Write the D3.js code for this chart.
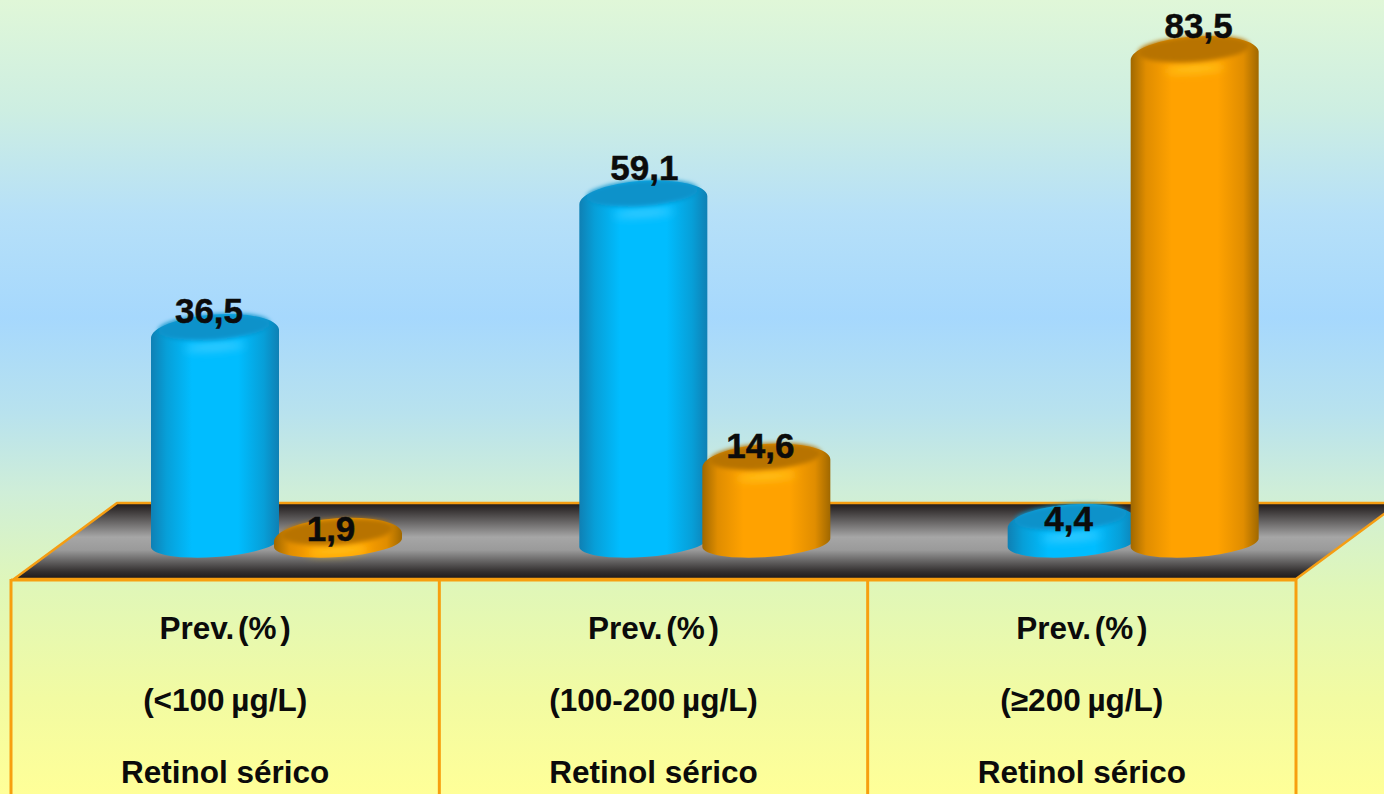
<!DOCTYPE html>
<html>
<head>
<meta charset="utf-8">
<script src="https://cdn.jsdelivr.net/npm/d3@7"></script>
<style>
html,body{margin:0;padding:0;background:#fff;overflow:hidden}
svg{display:block}
text{font-family:"Liberation Sans",Arial,sans-serif;fill:#0b0b0b}
</style>
</head>
<body>
<svg id="chart" width="1384" height="794"></svg>
<script>
// Retinol ranges, one column per range
const ranges = ["<100 µg/L", "100-200 µg/L", "≥200 µg/L"];
const seriesNames = ["azul", "laranja"];
const blueValues = [36.5, 59.1, 4.4];
const orangeValues = [1.9, 14.6, 83.5];
const tableTitle = "Prev. (% )";
const tableFooter = "Retinol sérico";

const W = 1384, H = 794;
const svg = d3.select("#chart");
const defs = svg.append("defs");
const comma = d3.formatLocale({decimal: ",", thousands: ".", grouping: [3], currency: ["", ""]}).format(".1f");

// Layout of the pseudo-3D stage
const tableTop = 579, floorBack = 503, floorSlant = 103;
const tableLeft = 11, tableRight = 1296;
const baseCentre = 542.5, rx = 64, ry = 14.5, tilt = -4;
const dyTilt = Math.tan(tilt * Math.PI / 180) * rx;

const x0 = d3.scaleBand().domain(ranges).range([tableLeft, tableRight]);
const x1 = d3.scalePoint().domain(seriesNames).range([204, 327]);
const y = d3.scaleLinear().domain([0, 83.5]).range([544, 50]);

// Value label nudges relative to the top of each cylinder [dx, dy]
const labelNudgeBlue = [[-6, -5], [1, -14], [-3, 13]];
const labelNudgeOrange = [[-7, 8], [-6, 0], [4, -12]];

function linear(id, stops, vertical) {
  const g = defs.append("linearGradient").attr("id", id)
    .attr("x1", 0).attr("y1", 0).attr("x2", vertical ? 0 : 1).attr("y2", vertical ? 1 : 0);
  stops.forEach(s => g.append("stop").attr("offset", s[0]).attr("stop-color", s[1]));
}
linear("bg", [[0, "#e0f7d8"], [0.14, "#cdeee2"], [0.27, "#b6e0f8"], [0.40, "#a6d8fd"],
  [0.52, "#b8e2ee"], [0.62, "#cfeed8"], [0.74, "#e0f7b8"], [0.88, "#f2fba2"], [1, "#ffff98"]], true);
linear("floor", [[0, "#1f1a1a"], [0.1, "#3a3636"], [0.45, "#a6a6a6"], [0.62, "#9a9a9a"], [0.9, "#333030"], [1, "#1c1818"]], true);

const palette = {
  azul: {edge: "#0f80b4", shade: "#079fd8", mid: "#00bdff", cap: "#0a92ca", glow: "#3fcdff"},
  laranja: {edge: "#a06800", shade: "#e08d00", mid: "#ffa200", cap: "#b87300", glow: "#ffc81e"}
};
seriesNames.forEach(n => {
  const p = palette[n];
  linear("side-" + n, [[0, p.edge], [0.12, p.shade], [0.32, p.mid], [0.68, p.mid], [0.88, p.shade], [1, p.edge]]);
});
defs.append("filter").attr("id", "soft").attr("x", "-20%").attr("y", "-50%").attr("width", "140%").attr("height", "200%")
  .append("feGaussianBlur").attr("stdDeviation", 2.2);
defs.append("filter").attr("id", "softer").attr("x", "-40%").attr("y", "-150%").attr("width", "180%").attr("height", "400%")
  .append("feGaussianBlur").attr("stdDeviation", 4);

// Background
svg.append("rect").attr("width", W).attr("height", H).attr("fill", "url(#bg)");

// Floor the cylinders stand on
const floorRight = tableRight + floorSlant;
svg.append("path")
  .attr("d", `M${tableLeft + 3},${tableTop} L${tableLeft + 3 + floorSlant},${floorBack} L${floorRight},${floorBack} L${tableRight},${tableTop} Z`)
  .attr("fill", "url(#floor)").attr("stroke", "#f59d12").attr("stroke-width", 2.5).attr("stroke-linejoin", "round");

// Table under the floor
const table = svg.append("g").attr("stroke", "#f79f0f").attr("stroke-width", 3);
table.append("line").attr("x1", tableLeft).attr("x2", tableRight + 1).attr("y1", tableTop + 1).attr("y2", tableTop + 1);
[tableLeft, ...ranges.slice(1).map(r => x0(r)), tableRight].forEach(xv => {
  table.append("line").attr("x1", xv).attr("x2", xv).attr("y1", tableTop).attr("y2", H);
});

// One cylinder: body with rounded shoulder, recessed top and front highlight
function cylinder(g, cx, value, name) {
  const p = palette[name];
  const top = y(value);
  const c = g.append("g");
  const height = Math.max(0, baseCentre - top);
  const drop = Math.min(6, height * 0.5);
  const shoulderRy = ry + 5;
  // The body and shoulder share one silhouette so the side shading runs through it
  c.append("path")
    .attr("d", `M${cx - rx},${top + drop - dyTilt} L${cx - rx},${baseCentre - dyTilt} `
      + `A${rx},${ry} ${tilt} 0 0 ${cx + rx},${baseCentre + dyTilt} L${cx + rx},${top + drop + dyTilt} `
      + `A${rx},${shoulderRy} ${tilt} 0 0 ${cx - rx},${top + drop - dyTilt} Z`)
    .attr("fill", `url(#side-${name})`);
  // Front highlight where the shoulder turns into the side
  c.append("ellipse").attr("cx", cx).attr("cy", top + drop + 13).attr("rx", 30).attr("ry", 3.5)
    .attr("transform", `rotate(${tilt} ${cx} ${top + drop + 13})`).attr("fill", p.glow).attr("filter", "url(#softer)");
  // Recessed top
  c.append("ellipse").attr("cx", cx - 1).attr("cy", top - 1).attr("rx", rx - 8).attr("ry", ry - 1.5)
    .attr("transform", `rotate(${tilt} ${cx - 1} ${top - 1})`).attr("fill", p.cap).attr("filter", "url(#soft)");
}

const rows = [
  {name: "azul", values: blueValues, nudges: labelNudgeBlue},
  {name: "laranja", values: orangeValues, nudges: labelNudgeOrange}
];
rows.forEach(row => {
  const g = svg.append("g").attr("class", row.name);
  row.values.forEach((v, i) => cylinder(g, x0(ranges[i]) + x1(row.name), v, row.name));
});

// Value labels above everything else
rows.forEach(row => {
  row.values.forEach((v, i) => {
    const n = row.nudges[i];
    svg.append("text")
      .attr("x", x0(ranges[i]) + x1(row.name) + n[0])
      .attr("y", y(v) + n[1])
      .attr("text-anchor", "middle")
      .attr("font-size", 35).attr("font-weight", "bold")
      .attr("stroke", "#0b0b0b").attr("stroke-width", 0.5)
      .text(comma(v));
  });
});

// Table cells
const cellCentre = r => x0(r) + x0.bandwidth() / 2;
ranges.forEach(r => {
  const lines = [[tableTitle, 639, -5], [`(${r})`, 711, -2], [tableFooter, 783, 0]];
  lines.forEach(([t, yy, gap]) => {
    svg.append("text").attr("x", cellCentre(r)).attr("y", yy)
      .attr("text-anchor", "middle").attr("font-size", 31.5).attr("font-weight", "bold")
      .attr("word-spacing", gap)
      .text(t);
  });
});
</script>
</body>
</html>
